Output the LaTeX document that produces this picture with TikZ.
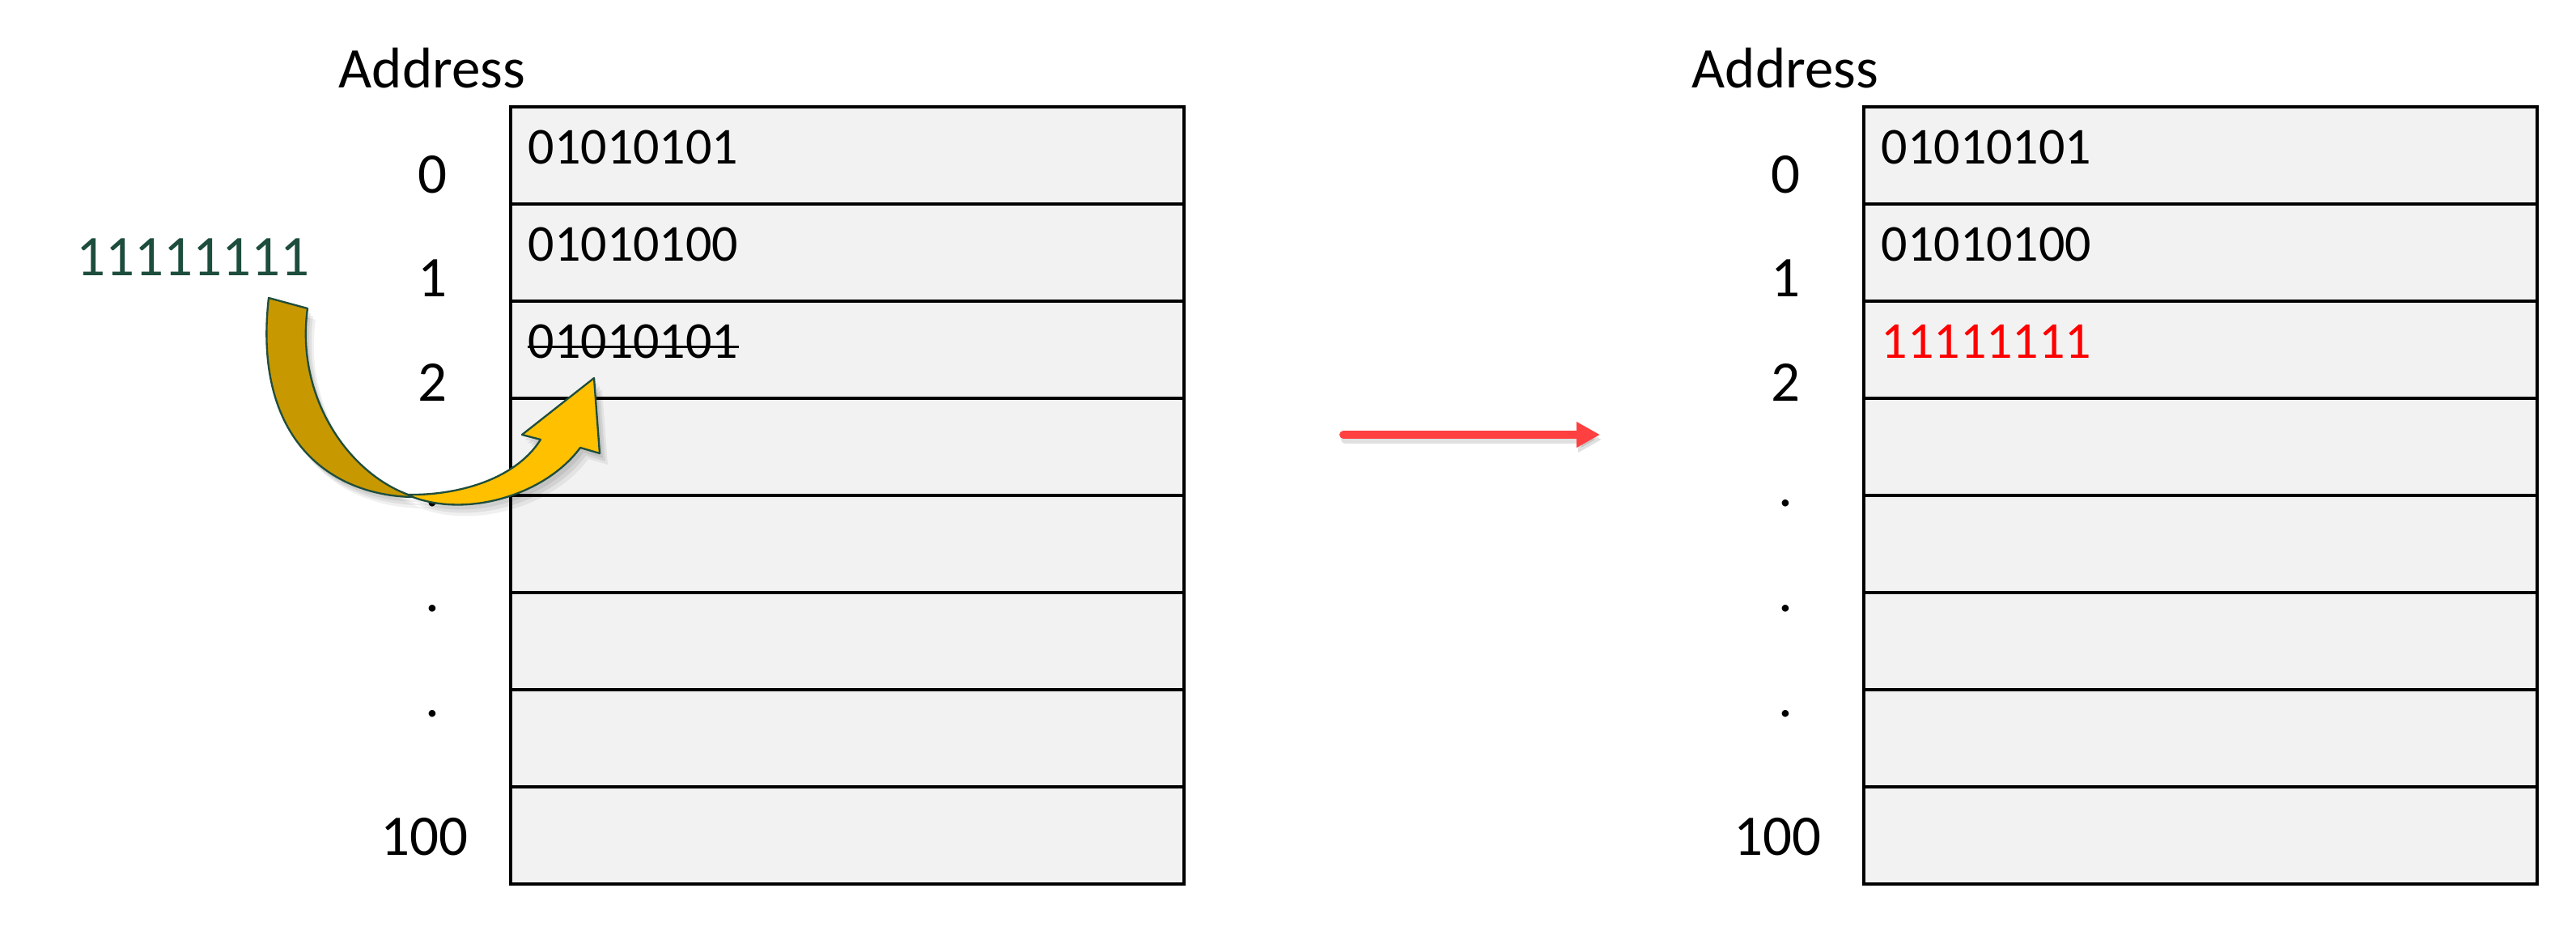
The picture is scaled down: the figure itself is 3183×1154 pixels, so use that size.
\documentclass[tikz,border=0pt]{standalone}
\usepackage{fontspec}
\setmainfont{Carlito}
\usetikzlibrary{arrows.meta}
\definecolor{cellgray}{HTML}{F2F2F2}
\definecolor{darkgold}{HTML}{C89800}
\definecolor{gold}{HTML}{FFC000}
\definecolor{edgegreen}{HTML}{1F4E3D}
\definecolor{txtgreen}{HTML}{1D4D3C}
\definecolor{arrowred}{HTML}{FF4040}
\begin{document}
\begin{tikzpicture}[x=0.3pt,y=-0.3pt,
  cell/.style={draw=black, line width=1.2pt, fill=cellgray},
  lab/.style={anchor=base, inner sep=0pt, font=\fontsize{21.3pt}{25pt}\selectfont},
  val/.style={anchor=base west, inner sep=0pt, font=\fontsize{19.2pt}{23pt}\selectfont},
  ribbon/.style={draw=edgegreen, line width=0.7pt, line join=round},
]
\useasboundingbox (0,0) rectangle (3183,1154);

% ---------- tables ----------
\foreach \i in {0,...,7}{
  \draw[cell] (631,{132+120*\i}) rectangle (1463,{252+120*\i});
  \draw[cell] (2303,{132+120*\i}) rectangle (3135,{252+120*\i});
}

% ---------- headers ----------
\node[lab] (addrL) at (534,108) {Address};
\node[lab] (addrR) at (2206,108) {Address};

% ---------- address labels ----------
\foreach \t/\yy [count=\k] in {0/238,1/366,2/495,./625,./755,./885}{
  \node[lab] (labL\k) at (534,\yy) {\t};
  \node[lab] (labR\k) at (2206,\yy) {\t};
}
\node[lab] (labL7) at (524,1056) {100};
\node[lab] (labR7) at (2196,1056) {100};

% ---------- cell values ----------
\node[val] (vL1) at (652,202) {01010101};
\node[val] (vL2) at (652,322) {01010100};
\node[val] (vL3) at (652,442) {01010101};
\draw[line width=0.9pt] ([yshift=4.2pt]vL3.base west) -- ([yshift=4.2pt]vL3.base east);

\node[val] (vR1) at (2324,202) {01010101};
\node[val] (vR2) at (2324,322) {01010100};
\node[val, text=red] (vR3) at (2324,442) {11111111};

% ---------- new value ----------
\node[lab, anchor=base west, text=txtgreen] (newv) at (94,340) {11111111};

% ---------- curved arrow shadow ----------
\foreach \dx/\dy/\op in {4/6/0.07,7/10/0.07,10/14/0.06}{
  \fill[black, opacity=\op, shift={(\dx,\dy)}]
    (332,368) -- (380,381) .. controls (365,490) and (430,585) .. (507,612)
    .. controls (560,612) and (635,595) .. (668,543) -- (645,537) -- (734,467)
    -- (741,560) -- (717,553) .. controls (675,610) and (580,640) .. (510,614)
    .. controls (410,612) and (312,545) .. (332,368) -- cycle;
}

% ---------- curved arrow ----------
\draw[ribbon, fill=darkgold] (332,368) -- (380,381)
  .. controls (365,490) and (430,585) .. (507,612) -- (510,614)
  .. controls (410,612) and (312,545) .. (332,368) -- cycle;
\draw[ribbon, fill=gold] (505,611)
  .. controls (560,612) and (635,595) .. (668,543) -- (645,537) -- (734,467)
  -- (741,560) -- (717,553) .. controls (675,610) and (580,640) .. (510,614) -- cycle;

% ---------- red arrow ----------
\coordinate (ra) at (1660,537);
\coordinate (rb) at (1977,537);
\coordinate (ras) at (1662,543);
\coordinate (rbs) at (1979,543);
\draw[line width=3pt, black, opacity=0.12, line cap=round,
  -{Triangle[length=8.7pt,width=9pt]}] (ras) -- (rbs);
\draw[line width=3pt, arrowred, line cap=round,
  -{Triangle[length=8.7pt,width=9pt]}] (ra) -- (rb);
\end{tikzpicture}
\end{document}
